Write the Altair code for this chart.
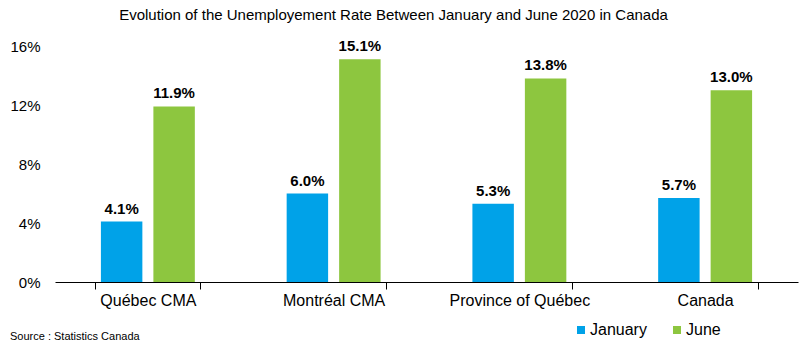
import altair as alt
import pandas as pd

regions = ["Québec CMA", "Montréal CMA", "Province of Québec", "Canada"]
january = [4.1, 6.0, 5.3, 5.7]
june = [11.9, 15.1, 13.8, 13.0]
series = ["January", "June"]
colors = ["#00A2E8", "#8DC63F"]
y_ticks = [0, 4, 8, 12, 16]

rows = []
for r, a, b in zip(regions, january, june):
    rows.append({"region": r, "month": "January", "rate": a})
    rows.append({"region": r, "month": "June", "rate": b})
df = pd.DataFrame(rows)

FONT = "Liberation Sans"

base = alt.Chart(df).encode(
    x=alt.X("region:N", sort=regions,
            scale=alt.Scale(paddingInner=0.435, paddingOuter=0.2175),
            axis=alt.Axis(title=None, labelFontSize=16, labelFont=FONT, labelColor="#000",
                          tickBand="extent", tickSize=7, tickColor="#000", domainColor="#000",
                          labelPadding=3, labelAngle=0, grid=False)),
    xOffset=alt.XOffset("month:N", sort=series,
                        scale=alt.Scale(paddingInner=0.21, paddingOuter=0.105)),
    y=alt.Y("rate:Q", scale=alt.Scale(domain=[0, 16]),
            axis=alt.Axis(title=None, values=y_ticks, labelExpr="datum.value + '%'",
                          labelFontSize=15, labelFont=FONT, labelColor="#000",
                          domain=False, ticks=False, grid=False, labelPadding=15)),
)

bars = base.mark_bar().encode(
    color=alt.Color("month:N", sort=series,
                    scale=alt.Scale(domain=series, range=colors),
                    legend=alt.Legend(title=None, orient="none", direction="horizontal",
                                      legendX=518, legendY=276, symbolType="square",
                                      symbolSize=64, symbolStrokeWidth=0,
                                      labelFontSize=16, labelFont=FONT, labelColor="#000",
                                      columnPadding=22, symbolOffset=0, labelOffset=1))
)

labels = base.mark_text(dy=-13, fontSize=15, fontWeight="bold", font=FONT, color="#000").transform_calculate(
    lab="format(datum.rate, '.1f') + '%'"
).encode(text="lab:N")

source = alt.Chart(pd.DataFrame({"t": ["Source : Statistics Canada"]})).mark_text(
    align="left", baseline="middle", fontSize=11, font=FONT, color="#000"
).encode(text="t:N", x=alt.value(-45), y=alt.value(55 + 236))

chart = alt.layer(bars, labels, source).properties(
    width=743, height=236,
    autosize=alt.AutoSizeParams(type="none"),
    padding={"left": 55, "top": 46, "right": 7, "bottom": 70},
    title=alt.TitleParams("Evolution  of the Unemployement  Rate Between January and June 2020 in Canada",
                          fontSize=15, font=FONT, fontWeight="normal", color="#000",
                          anchor="middle", dx=-33, offset=16),
).configure_view(stroke=None)

chart.save("out.html", embed_options={"renderer": "svg", "actions": False})
